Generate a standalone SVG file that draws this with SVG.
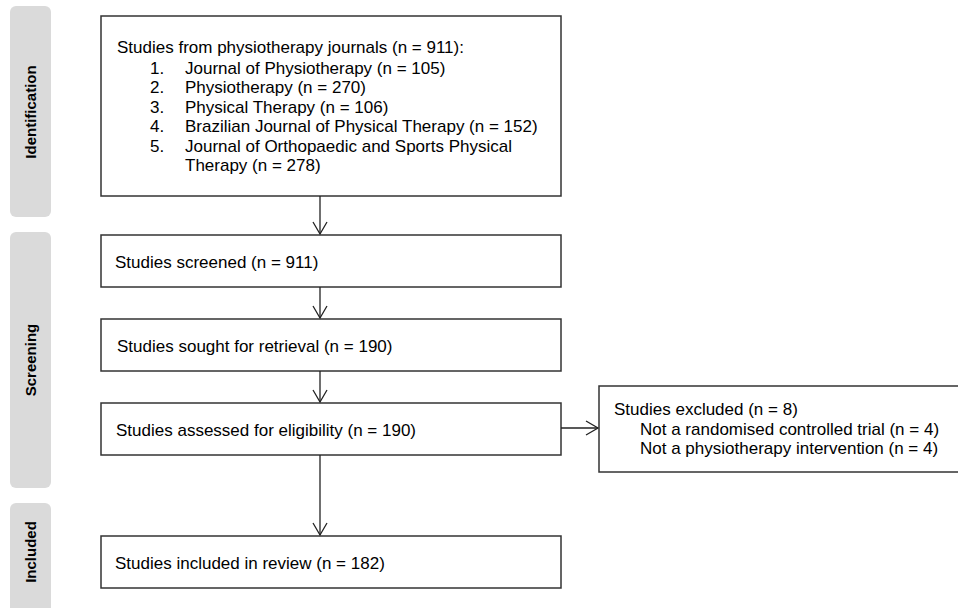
<svg xmlns="http://www.w3.org/2000/svg" width="958" height="608" viewBox="0 0 958 608">
<defs>
<style>
.panel{fill:#dadada;}
.ptxt{font-family:"Liberation Sans",Arial,sans-serif;font-size:15px;font-weight:bold;fill:#000;text-anchor:middle;}
.box{fill:#fff;stroke:#333;stroke-width:1.5;}
.txt{font-family:"Liberation Sans",Arial,sans-serif;font-size:17px;fill:#000;}
.hdr{font-size:15px;}
.conn{fill:none;stroke:#222;stroke-width:1.3;}
</style>
<marker id="arr" viewBox="0 0 16 16" refX="13" refY="8" markerWidth="16" markerHeight="16" markerUnits="userSpaceOnUse" orient="auto">
<path d="M1,1 L13,8 L1,15" fill="none" stroke="#222" stroke-width="1.3"/>
</marker>
</defs>
<rect width="958" height="608" fill="#fff"/>
<g id="phase-identification">
<rect class="panel" x="10" y="6" width="41" height="211" rx="6"/>
<text class="ptxt" transform="translate(36,112) rotate(-90)">Identification</text>
</g>
<g id="phase-screening">
<rect class="panel" x="10" y="232" width="41" height="256" rx="6"/>
<text class="ptxt" transform="translate(36,360) rotate(-90)">Screening</text>
</g>
<g id="phase-included">
<rect class="panel" x="10" y="503" width="41" height="120" rx="6"/>
<text class="ptxt" transform="translate(36,552) rotate(-90)">Included</text>
</g>
<g id="node-identified">
<rect class="box" x="101" y="16" width="460" height="180"/>
<text class="txt" x="117" y="53">Studies from physiotherapy journals (n = 911):</text>
<text class="txt" x="150" y="74">1.</text><text class="txt" x="185" y="74">Journal of Physiotherapy (n = 105)</text>
<text class="txt" x="150" y="93">2.</text><text class="txt" x="185" y="93">Physiotherapy (n = 270)</text>
<text class="txt" x="150" y="113">3.</text><text class="txt" x="185" y="113">Physical Therapy (n = 106)</text>
<text class="txt" x="150" y="132">4.</text><text class="txt" x="185" y="132">Brazilian Journal of Physical Therapy (n = 152)</text>
<text class="txt" x="150" y="152">5.</text><text class="txt" x="185" y="152">Journal of Orthopaedic and Sports Physical</text>
<text class="txt" x="185" y="171">Therapy (n = 278)</text>
</g>
<g id="node-screened">
<rect class="box" x="101" y="235" width="460" height="52"/>
<text class="txt" x="115" y="268">Studies screened (n = 911)</text>
</g>
<g id="node-sought">
<rect class="box" x="101" y="319" width="460" height="52"/>
<text class="txt" x="117" y="352">Studies sought for retrieval (n = 190)</text>
</g>
<g id="node-assessed">
<rect class="box" x="101" y="403" width="460" height="52"/>
<text class="txt" x="116" y="436">Studies assessed for eligibility (n = 190)</text>
</g>
<g id="node-excluded">
<rect class="box" x="599" y="386" width="370" height="86"/>
<text class="txt" x="614" y="415">Studies excluded (n = 8)</text>
<text class="txt" x="640" y="435">Not a randomised controlled trial (n = 4)</text>
<text class="txt" x="640" y="454">Not a physiotherapy intervention (n = 4)</text>
</g>
<g id="node-included">
<rect class="box" x="101" y="536" width="460" height="52"/>
<text class="txt" x="115" y="569">Studies included in review (n = 182)</text>
</g>
<g id="connectors">
<line class="conn" x1="320" y1="196" x2="320" y2="234" marker-end="url(#arr)"/>
<line class="conn" x1="320" y1="287" x2="320" y2="318" marker-end="url(#arr)"/>
<line class="conn" x1="320" y1="371" x2="320" y2="402" marker-end="url(#arr)"/>
<line class="conn" x1="320" y1="455" x2="320" y2="535" marker-end="url(#arr)"/>
<line class="conn" x1="561" y1="428" x2="598" y2="428" marker-end="url(#arr)"/>
</g>
</svg>
